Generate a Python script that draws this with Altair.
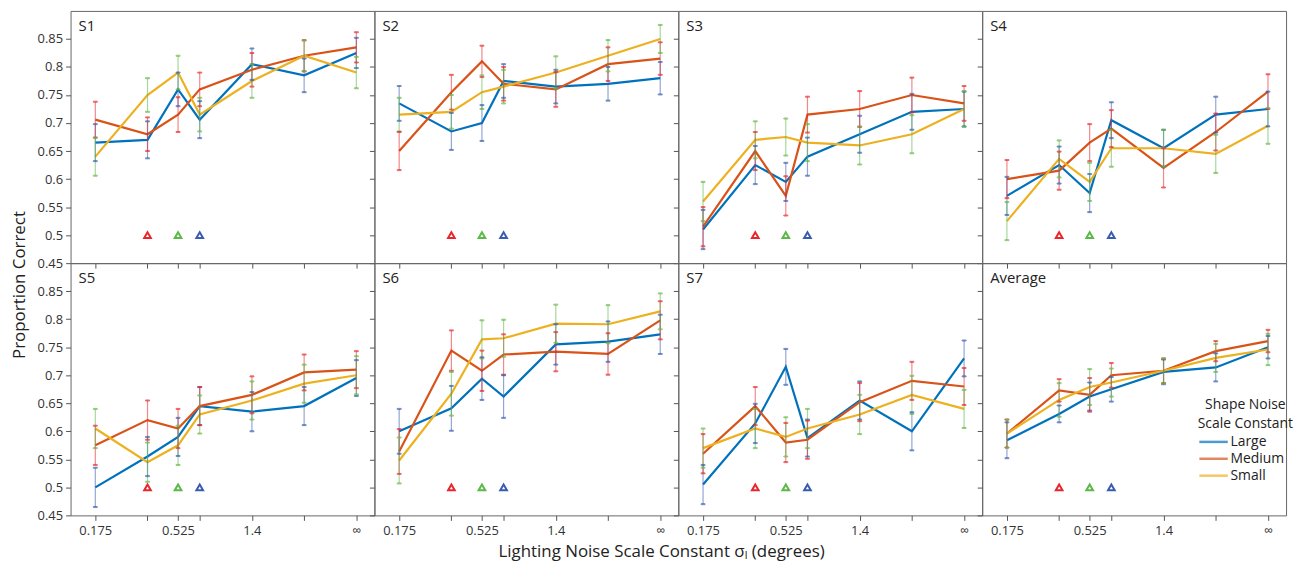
import altair as alt
import pandas as pd

# ---------------- data ----------------
X_VALUES = [0.175, 0.35, 0.525, 0.7, 1.4, 2.8, 5.6]
X_TICK_LABELS = ["0.175", "", "0.525", "", "1.4", "", "∞"]
Y_TICKS = [0.45, 0.5, 0.55, 0.6, 0.65, 0.7, 0.75, 0.8, 0.85]
SERIES = ["Large", "Medium", "Small"]
LINE_COLORS = ["#0072BD", "#D95319", "#EDB120"]
BAR_COLORS = ["#3a5cae", "#e8262c", "#5cb848"]
PANELS = ["S1", "S2", "S3", "S4", "S5", "S6", "S7", "Average"]

TRI_SERIES = ["Medium", "Small", "Large"]
TRI_X = [0.35, 0.525, 0.7]
TRI_Y = [0.5, 0.5, 0.5]

S1_LARGE = [0.665, 0.670, 0.760, 0.706, 0.805, 0.785, 0.825]
S1_MEDIUM = [0.706, 0.680, 0.715, 0.760, 0.795, 0.820, 0.835]
S1_SMALL = [0.640, 0.750, 0.790, 0.715, 0.775, 0.820, 0.790]
S1_LARGE_ERR = [0.033, 0.033, 0.030, 0.033, 0.028, 0.030, 0.027]
S1_MEDIUM_ERR = [0.032, 0.030, 0.031, 0.030, 0.030, 0.028, 0.027]
S1_SMALL_ERR = [0.034, 0.030, 0.030, 0.030, 0.030, 0.027, 0.028]

S2_LARGE = [0.735, 0.685, 0.700, 0.775, 0.765, 0.770, 0.780]
S2_MEDIUM = [0.650, 0.755, 0.810, 0.770, 0.760, 0.805, 0.815]
S2_SMALL = [0.715, 0.720, 0.755, 0.765, 0.790, 0.820, 0.850]
S2_LARGE_ERR = [0.031, 0.033, 0.032, 0.030, 0.030, 0.030, 0.029]
S2_MEDIUM_ERR = [0.034, 0.031, 0.028, 0.030, 0.031, 0.030, 0.029]
S2_SMALL_ERR = [0.030, 0.030, 0.030, 0.030, 0.029, 0.028, 0.025]

S3_LARGE = [0.510, 0.625, 0.595, 0.640, 0.680, 0.720, 0.725]
S3_MEDIUM = [0.515, 0.650, 0.570, 0.715, 0.725, 0.750, 0.735]
S3_SMALL = [0.560, 0.670, 0.675, 0.665, 0.660, 0.680, 0.725]
S3_LARGE_ERR = [0.035, 0.034, 0.034, 0.034, 0.033, 0.032, 0.031]
S3_MEDIUM_ERR = [0.035, 0.034, 0.035, 0.032, 0.032, 0.031, 0.031]
S3_SMALL_ERR = [0.035, 0.033, 0.033, 0.033, 0.034, 0.034, 0.032]

S4_LARGE = [0.570, 0.625, 0.575, 0.705, 0.655, 0.715, 0.725]
S4_MEDIUM = [0.600, 0.615, 0.665, 0.690, 0.620, 0.684, 0.756]
S4_SMALL = [0.525, 0.636, 0.595, 0.655, 0.655, 0.645, 0.695]
S4_LARGE_ERR = [0.034, 0.033, 0.034, 0.032, 0.033, 0.032, 0.031]
S4_MEDIUM_ERR = [0.034, 0.034, 0.033, 0.033, 0.035, 0.033, 0.031]
S4_SMALL_ERR = [0.034, 0.033, 0.034, 0.033, 0.033, 0.034, 0.032]

S5_LARGE = [0.500, 0.555, 0.590, 0.645, 0.635, 0.645, 0.695]
S5_MEDIUM = [0.575, 0.620, 0.605, 0.645, 0.665, 0.705, 0.710]
S5_SMALL = [0.605, 0.545, 0.575, 0.630, 0.655, 0.685, 0.700]
S5_LARGE_ERR = [0.035, 0.035, 0.034, 0.034, 0.035, 0.034, 0.032]
S5_MEDIUM_ERR = [0.035, 0.035, 0.035, 0.034, 0.033, 0.032, 0.033]
S5_SMALL_ERR = [0.035, 0.035, 0.035, 0.034, 0.034, 0.034, 0.034]

S6_LARGE = [0.600, 0.641, 0.694, 0.662, 0.755, 0.760, 0.773]
S6_MEDIUM = [0.564, 0.744, 0.708, 0.737, 0.742, 0.738, 0.798]
S6_SMALL = [0.548, 0.667, 0.764, 0.766, 0.792, 0.791, 0.814]
S6_LARGE_ERR = [0.040, 0.040, 0.038, 0.038, 0.036, 0.036, 0.035]
S6_MEDIUM_ERR = [0.040, 0.036, 0.036, 0.036, 0.035, 0.037, 0.034]
S6_SMALL_ERR = [0.041, 0.039, 0.034, 0.033, 0.034, 0.034, 0.032]

S7_LARGE = [0.505, 0.614, 0.715, 0.588, 0.655, 0.600, 0.730]
S7_MEDIUM = [0.560, 0.645, 0.580, 0.585, 0.652, 0.690, 0.680]
S7_SMALL = [0.570, 0.605, 0.590, 0.605, 0.630, 0.665, 0.640]
S7_LARGE_ERR = [0.035, 0.035, 0.032, 0.033, 0.034, 0.034, 0.032]
S7_MEDIUM_ERR = [0.035, 0.034, 0.035, 0.034, 0.034, 0.034, 0.033]
S7_SMALL_ERR = [0.035, 0.035, 0.035, 0.035, 0.035, 0.034, 0.034]

AVG_LARGE = [0.584, 0.631, 0.662, 0.675, 0.706, 0.714, 0.750]
AVG_MEDIUM = [0.596, 0.673, 0.665, 0.700, 0.708, 0.743, 0.761]
AVG_SMALL = [0.596, 0.656, 0.679, 0.687, 0.708, 0.731, 0.746]
AVG_LARGE_ERR = [0.032, 0.015, 0.025, 0.022, 0.022, 0.025, 0.020]
AVG_MEDIUM_ERR = [0.025, 0.020, 0.030, 0.022, 0.022, 0.018, 0.020]
AVG_SMALL_ERR = [0.025, 0.030, 0.032, 0.025, 0.022, 0.025, 0.028]

MEANS = {
    "S1": [S1_LARGE, S1_MEDIUM, S1_SMALL],
    "S2": [S2_LARGE, S2_MEDIUM, S2_SMALL],
    "S3": [S3_LARGE, S3_MEDIUM, S3_SMALL],
    "S4": [S4_LARGE, S4_MEDIUM, S4_SMALL],
    "S5": [S5_LARGE, S5_MEDIUM, S5_SMALL],
    "S6": [S6_LARGE, S6_MEDIUM, S6_SMALL],
    "S7": [S7_LARGE, S7_MEDIUM, S7_SMALL],
    "Average": [AVG_LARGE, AVG_MEDIUM, AVG_SMALL],
}
ERRS = {
    "S1": [S1_LARGE_ERR, S1_MEDIUM_ERR, S1_SMALL_ERR],
    "S2": [S2_LARGE_ERR, S2_MEDIUM_ERR, S2_SMALL_ERR],
    "S3": [S3_LARGE_ERR, S3_MEDIUM_ERR, S3_SMALL_ERR],
    "S4": [S4_LARGE_ERR, S4_MEDIUM_ERR, S4_SMALL_ERR],
    "S5": [S5_LARGE_ERR, S5_MEDIUM_ERR, S5_SMALL_ERR],
    "S6": [S6_LARGE_ERR, S6_MEDIUM_ERR, S6_SMALL_ERR],
    "S7": [S7_LARGE_ERR, S7_MEDIUM_ERR, S7_SMALL_ERR],
    "Average": [AVG_LARGE_ERR, AVG_MEDIUM_ERR, AVG_SMALL_ERR],
}

FONT = "Open Sans"
PW, PH = 306, 254

rows = []
for p in PANELS:
    for s, m, e in zip(SERIES, MEANS[p], ERRS[p]):
        for xv, mv, ev in zip(X_VALUES, m, e):
            rows.append({"panel": p, "series": s, "x": xv, "y": mv,
                         "lo": mv - ev, "hi": mv + ev})
df = pd.DataFrame(rows)
caps = pd.concat([
    df.assign(yc=df["lo"]),
    df.assign(yc=df["hi"]),
])
tri_df = pd.DataFrame({"series": TRI_SERIES, "x": TRI_X, "y": TRI_Y})

label_expr = ("[" + ",".join("'%s'" % t for t in X_TICK_LABELS) + "][indexof(["
              + ",".join(str(v) for v in X_VALUES) + "], datum.value)]")

x_scale = alt.Scale(type="log", domain=[0.126, 7.12], nice=False)
y_scale = alt.Scale(domain=[0.45, 0.9], nice=False, zero=False)
color_scale = alt.Scale(domain=SERIES, range=LINE_COLORS)
bar_scale = alt.Scale(domain=SERIES, range=BAR_COLORS)
legend = alt.Legend(
    title=["Shape Noise", "Scale Constant"], orient="none",
    legendX=1135, legendY=390, symbolType="M-2.6,0H2.6", symbolStrokeWidth=2.5,
    symbolSize=121, labelFontSize=14, titleFontSize=14, titleFontWeight="normal",
    titleAlign="center", titleAnchor="middle", labelFont=FONT, titleFont=FONT,
    labelColor="#222", titleColor="#222", rowPadding=3, titlePadding=4,
    titleLineHeight=19, labelOffset=10,
)


def panel(name, col, row):
    d = df[df.panel == name]
    c = caps[caps.panel == name]
    xaxis = alt.Axis(values=X_VALUES, labelExpr=label_expr, labels=(row == 1),
                     title=None, tickSize=5, grid=False, domain=False,
                     labelPadding=4, labelOverlap=False)
    yaxis = alt.Axis(values=Y_TICKS, format="~g", labels=(col == 0), title=None,
                     tickSize=5, grid=False, domain=False, labelPadding=3,
                     labelOverlap=False, tickCount=9)
    x = alt.X("x:Q", scale=x_scale, axis=xaxis)
    y = alt.Y("y:Q", scale=y_scale, axis=yaxis)
    lines = alt.Chart(d).mark_line(strokeWidth=2.2).encode(
        x=x, y=y, color=alt.Color("series:N", scale=color_scale, legend=legend))
    bars = alt.Chart(d).mark_rule(strokeWidth=1.2, opacity=0.55).encode(
        x=x, y=alt.Y("lo:Q", scale=y_scale, axis=yaxis), y2="hi:Q",
        stroke=alt.Stroke("series:N", scale=bar_scale, legend=None))
    cap = alt.Chart(c).mark_tick(orient="horizontal", size=4, thickness=1,
                                 opacity=0.7).encode(
        x=x, y=alt.Y("yc:Q", scale=y_scale, axis=yaxis),
        color=alt.Color("series:N", scale=color_scale, legend=legend),
        stroke=alt.Stroke("series:N", scale=bar_scale, legend=None))
    tri = alt.Chart(tri_df).mark_point(shape="triangle-up", filled=False,
                                       size=45, strokeWidth=2, opacity=1).encode(
        x=x, y=y,
        stroke=alt.Stroke("series:N", scale=bar_scale, legend=None))
    txt = alt.Chart(pd.DataFrame({"label": [name]})).mark_text(
        align="left", baseline="top", fontSize=15, font=FONT, color="#222"
    ).encode(x=alt.value(8), y=alt.value(8), text="label:N")
    return alt.layer(lines, bars, cap, tri, txt).properties(width=PW, height=PH)


grid = alt.concat(*[panel(PANELS[i], i % 4, i // 4) for i in range(8)],
                  columns=4, spacing=0, bounds="flush").properties(
    title=alt.TitleParams("Lighting Noise Scale Constant  σₗ (degrees)",
                          orient="bottom", anchor="middle", fontSize=17,
                          font=FONT, fontWeight="normal", color="#222",
                          offset=6))
chart = alt.hconcat(grid).properties(
    title=alt.TitleParams("Proportion Correct", orient="left", anchor="middle",
                          fontSize=17, font=FONT, fontWeight="normal",
                          color="#222", offset=8),
    padding={"left": 2, "top": 0, "right": 0, "bottom": 0},
).configure_view(stroke="#666", strokeWidth=1).configure_axis(
    labelFont=FONT, labelFontSize=13, labelColor="#333", tickColor="#555",
    tickWidth=1)

chart.save("out.html", embed_options={"renderer": "svg", "actions": False})
